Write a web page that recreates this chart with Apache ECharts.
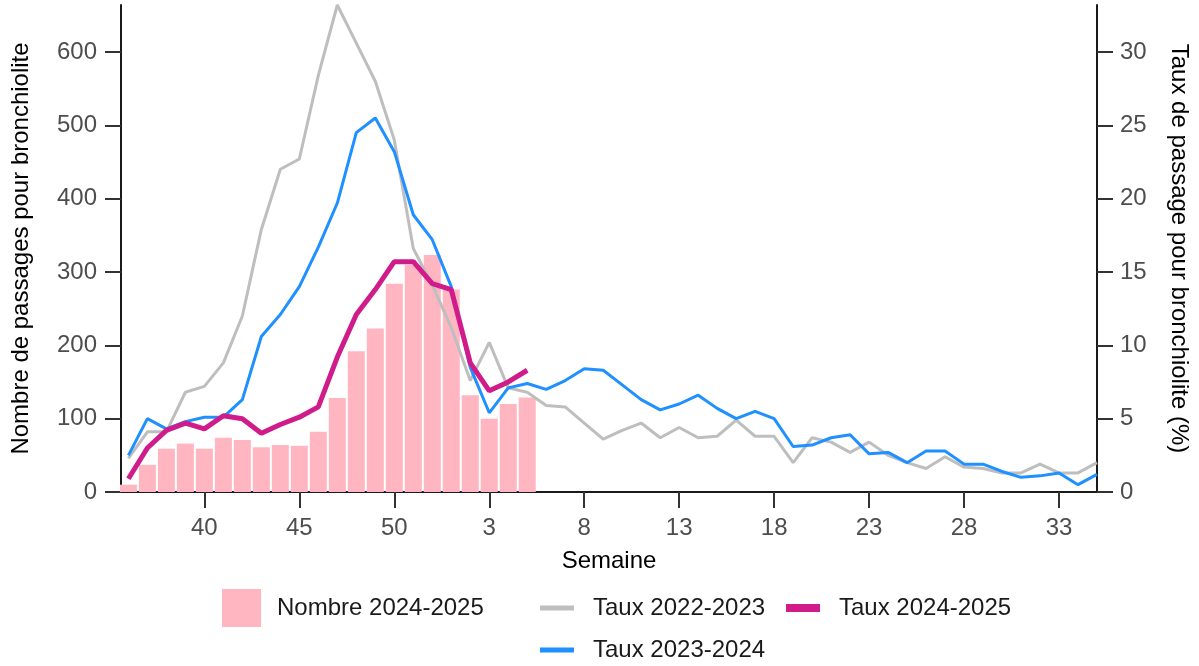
<!DOCTYPE html>
<html>
<head>
<meta charset="utf-8">
<script src="https://cdn.jsdelivr.net/npm/echarts@6/dist/echarts.min.js"></script>
<style>
html,body{margin:0;padding:0;background:#fff;}
#chart{width:1199px;height:666px;}
</style>
</head>
<body>
<div id="chart"></div>
<script>
// Weeks (season from week 36 to week 35)
const weeks = [36,37,38,39,40,41,42,43,44,45,46,47,48,49,50,51,52,1,2,3,4,5,6,7,8,9,10,11,12,13,14,15,16,17,18,19,20,21,22,23,24,25,26,27,28,29,30,31,32,33,34,35];
const tickWeeks = [40,45,50,3,8,13,18,23,28,33];
const leftTicks = [0,100,200,300,400,500,600];
const rightTicks = [0,5,10,15,20,25,30];

// Nombre de passages 2024-2025
const nombre2425 = [10,37,59,66,59,74,71,61,64,63,82,128,192,223,284,310,323,276,132,100,120,129];
// Taux (%)
const taux2223 = [2.3,4.1,4.1,6.8,7.2,8.8,12.0,17.9,22.0,22.7,28.4,33.2,30.6,28.0,24.0,16.6,14.1,11.2,7.6,10.2,7.1,6.8,5.9,5.8,4.7,3.6,4.2,4.7,3.7,4.4,3.7,3.8,4.9,3.8,3.8,2.0,3.7,3.4,2.7,3.4,2.5,2.0,1.6,2.4,1.7,1.6,1.3,1.3,1.9,1.3,1.3,2.0];
const taux2324 = [2.5,5.0,4.3,4.8,5.1,5.1,6.3,10.6,12.1,14.0,16.7,19.7,24.5,25.5,23.2,18.9,17.2,14.0,8.5,5.4,7.1,7.4,7.0,7.6,8.4,8.3,7.3,6.3,5.6,6.0,6.6,5.7,5.0,5.5,5.0,3.1,3.2,3.7,3.9,2.6,2.7,2.0,2.8,2.8,1.9,1.9,1.4,1.0,1.1,1.3,0.5,1.2];
const taux2425 = [0.9,3.0,4.2,4.7,4.3,5.2,5.0,4.0,4.6,5.1,5.8,9.2,12.1,13.8,15.7,15.7,14.2,13.8,8.8,6.9,7.5,8.3];

const FONT = '"Liberation Sans", Arial, sans-serif';
const toPairs = arr => arr.map((v,i)=>[i,v]);
const tickIdx = tickWeeks.map(w => weeks.indexOf(w));

const chart = echarts.init(document.getElementById('chart'), null, {renderer:'canvas'});

const legendText = {fontFamily: FONT, fontSize: 24, color: '#1a1a1a', lineHeight: 24};

const option = {
  backgroundColor: '#ffffff',
  animation: false,
  grid: {left: 121, right: 101, top: 5, bottom: 174, containLabel: false},
  xAxis: {
    type: 'value',
    min: -0.39,
    max: 51,
    name: 'Semaine',
    nameLocation: 'middle',
    nameGap: 57,
    nameTextStyle: {fontFamily: FONT, fontSize: 24, color: '#000'},
    axisLine: {show: true, onZero: false, lineStyle: {color: '#1a1a1a', width: 2}},
    axisTick: {show: true, length: 16, customValues: tickIdx, lineStyle: {color: '#333', width: 2}},
    axisLabel: {customValues: tickIdx, margin: 24, fontFamily: FONT, fontSize: 24, color: '#4d4d4d',
      formatter: v => String(weeks[Math.round(v)])},
    splitLine: {show: false}
  },
  yAxis: [
    {
      type: 'value', min: 0, max: 664, position: 'left',
      name: 'Nombre de passages pour bronchiolite',
      nameLocation: 'middle', nameGap: 88, nameRotate: 90,
      nameTextStyle: {fontFamily: FONT, fontSize: 24, color: '#000'},
      axisLine: {show: true, onZero: false, lineStyle: {color: '#1a1a1a', width: 2}},
      axisTick: {show: true, length: 16, customValues: leftTicks, lineStyle: {color: '#333', width: 2}},
      axisLabel: {customValues: leftTicks, margin: 24, fontFamily: FONT, fontSize: 24, color: '#4d4d4d'},
      splitLine: {show: false}
    },
    {
      type: 'value', min: 0, max: 33.2, position: 'right',
      name: 'Taux de passage pour bronchiolite (%)',
      nameLocation: 'middle', nameGap: 70, nameRotate: -90,
      nameTextStyle: {fontFamily: FONT, fontSize: 24, color: '#000'},
      axisLine: {show: true, onZero: false, lineStyle: {color: '#1a1a1a', width: 2}},
      axisTick: {show: true, length: 16, customValues: rightTicks, lineStyle: {color: '#333', width: 2}},
      axisLabel: {customValues: rightTicks, margin: 23, fontFamily: FONT, fontSize: 24, color: '#4d4d4d'},
      splitLine: {show: false}
    }
  ],
  legend: [
    {data: ['Nombre 2024-2025'], left: 222, top: 589, padding: 0, itemWidth: 39, itemHeight: 38, icon: 'rect', itemGap: 0,
      textStyle: Object.assign({}, legendText, {padding: [0,0,0,11]})},
    {data: ['Taux 2022-2023'], left: 540, top: 596, padding: 0, itemWidth: 34, itemHeight: 5, icon: 'rect',
      textStyle: Object.assign({}, legendText, {padding: [0,0,0,14]})},
    {data: ['Taux 2024-2025'], left: 786, top: 596, padding: 0, itemWidth: 34, itemHeight: 8, icon: 'rect',
      textStyle: Object.assign({}, legendText, {padding: [0,0,0,14]})},
    {data: ['Taux 2023-2024'], left: 540, top: 638, padding: 0, itemWidth: 34, itemHeight: 5, icon: 'rect',
      textStyle: Object.assign({}, legendText, {padding: [0,0,0,14]})}
  ],
  series: [
    {
      name: 'Nombre 2024-2025', type: 'bar', xAxisIndex: 0, yAxisIndex: 0,
      data: toPairs(nombre2425), barWidth: 17,
      itemStyle: {color: '#FFB6C1'}, clip: true
    },
    {
      name: 'Taux 2022-2023', type: 'line', yAxisIndex: 1, data: toPairs(taux2223),
      symbol: 'none', color: '#BEBEBE', lineStyle: {color: '#BEBEBE', width: 3}, itemStyle: {color: '#BEBEBE'}
    },
    {
      name: 'Taux 2023-2024', type: 'line', yAxisIndex: 1, data: toPairs(taux2324),
      symbol: 'none', color: '#1E90FF', lineStyle: {color: '#1E90FF', width: 3}, itemStyle: {color: '#1E90FF'}
    },
    {
      name: 'Taux 2024-2025', type: 'line', yAxisIndex: 1, data: toPairs(taux2425),
      symbol: 'none', color: '#D01C8B', lineStyle: {color: '#D01C8B', width: 5}, itemStyle: {color: '#D01C8B'}
    }
  ]
};
chart.setOption(option);
</script>
</body>
</html>
